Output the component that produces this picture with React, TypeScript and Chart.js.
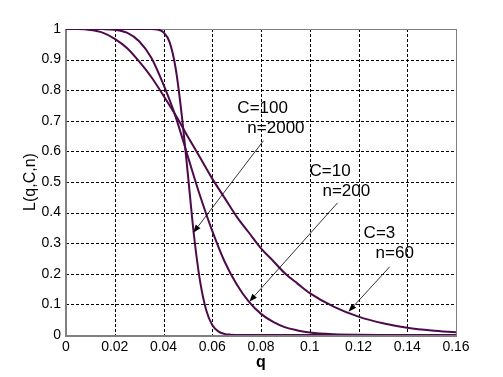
import React, { useEffect, useRef } from "react";
import { Chart, registerables } from "chart.js";

Chart.register(...registerables);

// C=3, n=60
const qC3 = [0, 0.005, 0.01, 0.015, 0.02, 0.025, 0.03, 0.035, 0.04, 0.045, 0.05, 0.055, 0.06, 0.065, 0.07, 0.075, 0.08, 0.085, 0.09, 0.095, 0.1, 0.11, 0.12, 0.13, 0.14, 0.15, 0.16];
const LC3 = [1, 0.9997, 0.9966, 0.988, 0.968, 0.938, 0.894, 0.843, 0.782, 0.718, 0.648, 0.58, 0.511, 0.449, 0.387, 0.335, 0.283, 0.242, 0.2, 0.168, 0.137, 0.092, 0.06, 0.0385, 0.024, 0.0148, 0.009];

// C=10, n=200
const qC10 = [0, 0.01, 0.015, 0.02, 0.025, 0.03, 0.035, 0.04, 0.045, 0.05, 0.055, 0.06, 0.065, 0.07, 0.075, 0.08, 0.085, 0.09, 0.095, 0.1, 0.11, 0.12, 0.13, 0.14, 0.16];
const LC10 = [1, 1, 0.9997, 0.9976, 0.988, 0.96, 0.906, 0.818, 0.713, 0.583, 0.455, 0.34, 0.241, 0.166, 0.109, 0.069, 0.043, 0.025, 0.015, 0.008, 0.0024, 0.0007, 0.0002, 0, 0];

// C=100, n=2000
const qC100 = [0, 0.03, 0.035, 0.0375, 0.04, 0.0425, 0.045, 0.0475, 0.05, 0.0525, 0.055, 0.0575, 0.06, 0.0625, 0.065, 0.0675, 0.07, 0.075, 0.16];
const LC100 = [1, 1, 0.9999, 0.9987, 0.989, 0.957, 0.871, 0.718, 0.525, 0.326, 0.176, 0.082, 0.033, 0.012, 0.0037, 0.001, 0.0003, 0, 0];

const xTickValues = [0, 0.02, 0.04, 0.06, 0.08, 0.1, 0.12, 0.14, 0.16];
const xTickLabels = ["0", "0.02", "0.04", "0.06", "0.08", "0.1", "0.12", "0.14", "0.16"];
const yTickValues = [0, 0.1, 0.2, 0.3, 0.4, 0.5, 0.6, 0.7, 0.8, 0.9, 1];
const yTickLabels = ["0", "0.1", "0.2", "0.3", "0.4", "0.5", "0.6", "0.7", "0.8", "0.9", "1"];

const labelTexts = ["C=100", "n=2000", "C=10", "n=200", "C=3", "n=60"];
const labelQ = [0.0703, 0.0744, 0.0999, 0.1052, 0.1221, 0.127];
const labelL = [0.74, 0.674, 0.534, 0.468, 0.331, 0.266];

const arrowFromQ = [0.081, 0.1114, 0.1328];
const arrowFromL = [0.635, 0.432, 0.223];
const arrowToQ = [0.0522, 0.0752, 0.1159];
const arrowToL = [0.334, 0.109, 0.076];

const CURVE = "#4d0a4a";
const FONT = "'Liberation Sans', Arial, sans-serif";

const pts = (qs: number[], ls: number[]) => qs.map((q, i) => ({ x: q, y: ls[i] }));

const boxPlugin = {
  id: "box",
  beforeDatasetsDraw(chart: any) {
    const { ctx, chartArea: a } = chart;
    const xs = chart.scales.x;
    const ys = chart.scales.y;
    ctx.save();
    // dotted grid
    ctx.strokeStyle = "#000";
    ctx.lineWidth = 1;
    ctx.setLineDash([3, 2]);
    xs.ticks.forEach((t: any, i: number) => {
      if (i === 0 || i === xs.ticks.length - 1) return;
      const x = Math.round(xs.getPixelForValue(t.value)) + 0.5;
      ctx.beginPath();
      ctx.moveTo(x, a.top);
      ctx.lineTo(x, a.bottom);
      ctx.stroke();
    });
    ys.ticks.forEach((t: any, i: number) => {
      if (i === 0 || i === ys.ticks.length - 1) return;
      const y = Math.round(ys.getPixelForValue(t.value)) + 0.5;
      ctx.beginPath();
      ctx.moveTo(a.left, y);
      ctx.lineTo(a.right, y);
      ctx.stroke();
    });
    ctx.setLineDash([]);
    // box
    ctx.strokeStyle = "#808080";
    ctx.lineWidth = 1;
    ctx.strokeRect(Math.round(a.left) + 0.5, Math.round(a.top) + 0.5, Math.round(a.right - a.left), Math.round(a.bottom - a.top));
    ctx.lineWidth = 2;
    ctx.beginPath();
    ctx.moveTo(Math.round(a.left), Math.round(a.top));
    ctx.lineTo(Math.round(a.left), Math.round(a.bottom) + 1);
    ctx.lineTo(Math.round(a.right) + 1, Math.round(a.bottom) + 1);
    ctx.stroke();
    ctx.restore();
  },
};

const annotPlugin = {
  id: "annot",
  afterDatasetsDraw(chart: any) {
    const { ctx } = chart;
    const xs = chart.scales.x;
    const ys = chart.scales.y;
    ctx.save();
    ctx.fillStyle = "#000";
    ctx.font = `17px ${FONT}`;
    ctx.textAlign = "left";
    ctx.textBaseline = "middle";
    labelTexts.forEach((t, i) => {
      ctx.fillText(t, xs.getPixelForValue(labelQ[i]), ys.getPixelForValue(labelL[i]));
    });
    ctx.strokeStyle = "#000";
    ctx.lineWidth = 0.8;
    arrowFromQ.forEach((_, i) => {
      const x1 = xs.getPixelForValue(arrowFromQ[i]);
      const y1 = ys.getPixelForValue(arrowFromL[i]);
      const x2 = xs.getPixelForValue(arrowToQ[i]);
      const y2 = ys.getPixelForValue(arrowToL[i]);
      const ang = Math.atan2(y2 - y1, x2 - x1);
      const len = 8;
      const hw = 3;
      const bx = x2 - len * Math.cos(ang);
      const by = y2 - len * Math.sin(ang);
      ctx.beginPath();
      ctx.moveTo(x1, y1);
      ctx.lineTo(bx, by);
      ctx.stroke();
      ctx.beginPath();
      ctx.moveTo(x2, y2);
      ctx.lineTo(bx + hw * Math.sin(ang), by - hw * Math.cos(ang));
      ctx.lineTo(bx - hw * Math.sin(ang), by + hw * Math.cos(ang));
      ctx.closePath();
      ctx.fill();
    });
    ctx.restore();
  },
};

export default function App() {
  const ref = useRef<HTMLCanvasElement | null>(null);
  useEffect(() => {
    if (!ref.current) return;
    const ds = (qs: number[], ls: number[]) => ({
      data: pts(qs, ls),
      borderColor: CURVE,
      borderWidth: 2,
      pointRadius: 0,
      fill: false,
      cubicInterpolationMode: "monotone" as const,
    });
    const chart = new Chart(ref.current, {
      type: "line",
      data: {
        datasets: [ds(qC3, LC3), ds(qC10, LC10), ds(qC100, LC100)],
      },
      options: {
        animation: false,
        responsive: false,
        devicePixelRatio: 1,
        layout: { padding: { top: 29, right: 47, left: 0, bottom: 0 } },
        plugins: { legend: { display: false }, tooltip: { enabled: false } },
        scales: {
          x: {
            type: "linear",
            min: 0,
            max: 0.16,
            afterBuildTicks: (s: any) => {
              s.ticks = xTickValues.map((v) => ({ value: v }));
            },
            afterFit: (s: any) => {
              s.height = 42;
            },
            ticks: {
              autoSkip: false,
              maxRotation: 0,
              padding: 4,
              color: "#000",
              font: { family: FONT, size: 14 },
              callback: (_v: any, i: number) => xTickLabels[i],
            },
            grid: { display: false, drawTicks: false },
            border: { display: false },
            title: {
              display: true,
              text: "q",
              color: "#000",
              font: { family: FONT, size: 16, weight: "bold" },
              padding: { top: 0, bottom: 5 },
            },
          },
          y: {
            type: "linear",
            min: 0,
            max: 1,
            afterBuildTicks: (s: any) => {
              s.ticks = yTickValues.map((v) => ({ value: v }));
            },
            afterFit: (s: any) => {
              s.width = 66;
            },
            ticks: {
              autoSkip: false,
              padding: 5,
              color: "#000",
              font: { family: FONT, size: 14 },
              callback: (_v: any, i: number) => yTickLabels[i],
            },
            grid: { display: false, drawTicks: false },
            border: { display: false },
            title: {
              display: true,
              text: "L(q,C,n)",
              color: "#000",
              font: { family: FONT, size: 16 },
              padding: { top: 21, bottom: 0 },
            },
          },
        },
      },
      plugins: [boxPlugin, annotPlugin],
    });
    return () => chart.destroy();
  }, []);
  return (
    <div style={{ position: "absolute", left: 0, top: 0, width: 503, height: 377, background: "#fff" }}>
      <canvas ref={ref} width={503} height={377} style={{ display: "block" }} />
    </div>
  );
}
